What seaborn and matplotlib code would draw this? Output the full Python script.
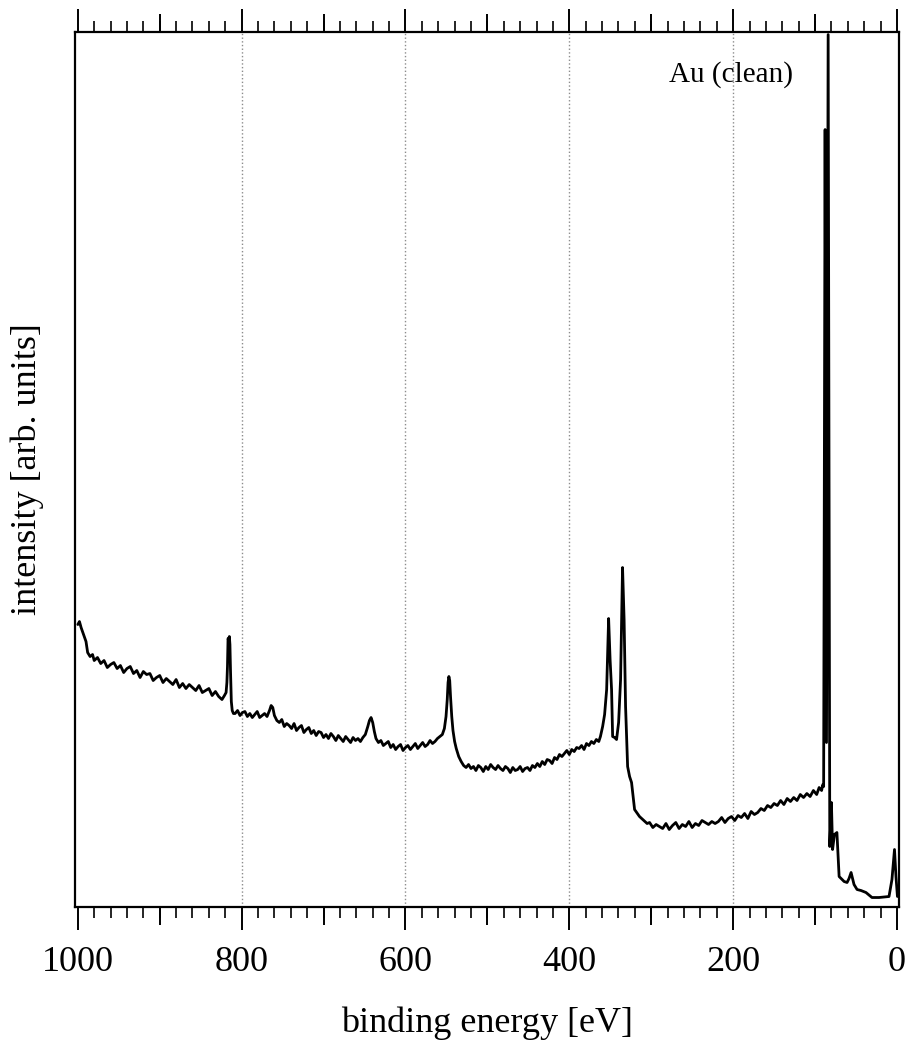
import matplotlib
matplotlib.use("Agg")
import matplotlib.pyplot as plt
from matplotlib.ticker import FixedLocator, MultipleLocator, NullFormatter
import pandas as pd
import seaborn as sns

# Au (clean) XPS survey.
# binding energy in eV, intensity in arbitrary units (0 = frame bottom).

# inelastic onset + background down to the 815 eV line
be_bg1 = [1000, 998, 996, 993, 990, 988, 985, 982, 980, 976, 972, 968, 964, 960, 956,
          952, 948, 944, 940, 936, 932, 928, 924, 920, 916, 912, 908, 904, 900, 896,
          892, 888, 884, 880, 876, 872, 868, 864, 860, 856, 852, 848, 844, 840, 836,
          832, 828, 824, 821]
int_bg1 = [282, 285, 279, 272, 265, 254, 250, 252, 246, 249, 243, 246, 239, 242, 244,
           238, 241, 234, 238, 240, 233, 236, 229, 235, 232, 233, 226, 229, 231, 224,
           228, 225, 222, 227, 219, 223, 218, 222, 219, 216, 221, 214, 216, 218, 211,
           215, 210, 207, 211]

be_pk815 = [819, 818, 817.3, 816.6, 815.8, 815.0, 814.3, 813.6, 812.6, 811.5, 810]
int_pk815 = [214, 224, 240, 268, 266, 270, 262, 236, 205, 196, 193]

be_bg2 = [808, 805, 802, 799, 796, 793, 790, 787, 784, 781, 778, 775, 772, 769, 766,
          764, 762, 760, 757, 754, 751, 748, 745, 742, 739, 736, 733, 730, 727, 724,
          721, 718, 715, 712, 709, 706, 703, 700, 697, 694, 691, 688, 685, 682, 679,
          676, 673, 670, 667, 664, 661, 658, 655, 652, 649, 646, 644, 642, 640, 638,
          636, 633, 630, 627, 624, 621, 618, 615, 612, 609, 606, 603, 600, 597, 594,
          591, 588, 585, 582, 579, 576, 573, 570, 567, 564, 561, 558]
int_bg2 = [193, 196, 191, 194, 195, 190, 193, 189, 192, 195, 189, 191, 193, 190, 196,
           201, 199, 191, 186, 184, 187, 180, 183, 181, 178, 183, 176, 179, 181, 174,
           177, 179, 173, 176, 171, 175, 174, 169, 172, 168, 173, 170, 166, 171, 168,
           165, 170, 167, 164, 169, 166, 168, 165, 169, 172, 180, 186, 189, 184, 175,
           168, 164, 166, 161, 163, 165, 159, 162, 157, 160, 162, 156, 159, 161, 157,
           160, 163, 158, 161, 164, 160, 162, 166, 163, 165, 168, 170]

be_pk547 = [555, 552.5, 550.5, 549, 548, 547, 546, 545, 543.5, 542, 540, 538, 535,
            532, 529, 526]
int_pk547 = [172, 178, 190, 207, 224, 230, 226, 210, 190, 176, 165, 158, 150, 145,
             141, 139]

be_bg3 = [523, 520, 517, 514, 511, 508, 505, 502, 499, 496, 493, 490, 487, 484, 481,
          478, 475, 472, 469, 466, 463, 460, 457, 454, 451, 448, 445, 442, 439, 436,
          433, 430, 427, 424, 421, 418, 415, 412, 409, 406, 403, 400, 397, 394, 391,
          388, 385, 382, 379, 376, 373, 370, 367, 364, 362]
int_bg3 = [142, 138, 140, 136, 141, 139, 135, 140, 137, 142, 139, 137, 141, 138, 136,
           140, 138, 134, 139, 136, 137, 140, 135, 138, 139, 136, 141, 139, 143, 140,
           145, 142, 147, 146, 143, 149, 147, 152, 150, 153, 156, 152, 157, 155, 159,
           158, 161, 157, 163, 161, 165, 163, 167, 165, 170]

# Au 4d doublet
be_au4d = [359.3, 356.9, 354.4, 352.0, 350.2, 348.4, 347.1, 344.7, 342.3, 339.8, 337.4,
           335.0, 333.1, 331.3, 328.8, 326.4, 324.0, 320.3, 314.3, 309]
int_au4d = [180, 192, 217, 288, 247, 217, 170, 169, 167, 184, 227, 339, 287, 200, 140,
            130, 124, 97, 90, 86]

be_bg4 = [305, 302, 298, 294, 290, 286, 282, 278, 274, 270, 266, 262, 258, 254, 250,
          246, 242, 238, 234, 230, 226, 222, 218, 214, 210, 206, 202, 198, 194, 190,
          186, 182, 178, 174, 170, 166, 162, 158, 154, 150, 146, 142, 138, 134, 130,
          126, 122, 118, 114, 110, 106, 102, 98, 95, 92, 90.5]
int_bg4 = [83, 84, 79, 82, 80, 78, 83, 77, 81, 84, 78, 82, 80, 85, 79,
           83, 81, 86, 84, 82, 85, 83, 85, 89, 84, 88, 90, 86, 91, 89,
           93, 88, 95, 92, 94, 98, 96, 101, 99, 103, 101, 106, 102, 108, 105,
           109, 106, 112, 109, 113, 110, 116, 112, 119, 116, 122]

# Au 4f doublet, 5p and valence band
be_au4f = [89.5, 87.7, 86.0, 84.0, 82.0, 80.0, 78.6, 76.3, 73.3, 70.6, 64.5, 60.9, 58.5,
           56.0, 52.4, 48.7, 43.9, 37.8, 30.5, 21.9, 9.7, 6.1, 3.0, 1.2, -0.6]
int_au4f = [120, 777, 164, 872, 60, 104, 57, 72, 74, 30, 25, 24, 28, 34, 22, 17, 16,
            14, 9, 9, 10, 27, 57, 30, 10]

labelled_ticks = [1000, 800, 600, 400, 200, 0]
mid_ticks = [900, 700, 500, 300, 100]
grid_be = [800, 600, 400, 200]

df = pd.DataFrame({
    "be": be_bg1 + be_pk815 + be_bg2 + be_pk547 + be_bg3 + be_au4d + be_bg4 + be_au4f,
    "intensity": int_bg1 + int_pk815 + int_bg2 + int_pk547 + int_bg3 + int_au4d
                 + int_bg4 + int_au4f,
})

sns.set_theme(style="ticks")
plt.rcParams["font.family"] = ["Liberation Serif", "DejaVu Serif"]

fig = plt.figure(figsize=(9.09, 10.52), dpi=100)
ax = fig.add_axes([0.082, 0.1383, 0.907, 0.8317])

for g in grid_be:
    ax.axvline(g, color="#8c8c8c", linestyle=":", linewidth=1.0, zorder=0)

sns.lineplot(data=df, x="be", y="intensity", ax=ax, color="black", linewidth=2.0,
             estimator=None, sort=False)

ax.set_xlim(1004, -2.5)
ax.set_ylim(0, 875)
ax.set_yticks([])

# medium ticks every 100 eV on a twin axis (only two tick levels per axis)
ax_mid = ax.twiny()
ax_mid.set_xlim(ax.get_xlim())
ax_mid.xaxis.set_major_locator(FixedLocator(mid_ticks))
ax_mid.xaxis.set_major_formatter(NullFormatter())
ax_mid.tick_params(axis="x", which="major", top=True, bottom=True, labeltop=False,
                   labelbottom=False, direction="out", length=13, width=1.4, color="black")
for s in ax_mid.spines.values():
    s.set_visible(False)

ax.xaxis.set_major_locator(FixedLocator(labelled_ticks))
ax.xaxis.set_minor_locator(MultipleLocator(20))
ax.tick_params(axis="x", which="major", top=True, bottom=True, labeltop=False,
               direction="out", length=16.5, width=1.4, color="black",
               labelcolor="black", labelsize=26, pad=12)
ax.tick_params(axis="x", which="minor", top=True, bottom=True, direction="out",
               length=8, width=1.2, color="black")
for s in ax.spines.values():
    s.set_visible(True)
    s.set_color("black")
    s.set_linewidth(1.6)

ax.set_xlabel("binding energy [eV]", fontsize=26, labelpad=20, color="black")
ax.set_ylabel("intensity [arb. units]", fontsize=26, labelpad=22, color="black")
ax.text(203, 832, "Au (clean)", fontsize=21, ha="center", va="center", color="black")

fig.savefig("out.png", dpi=100)
